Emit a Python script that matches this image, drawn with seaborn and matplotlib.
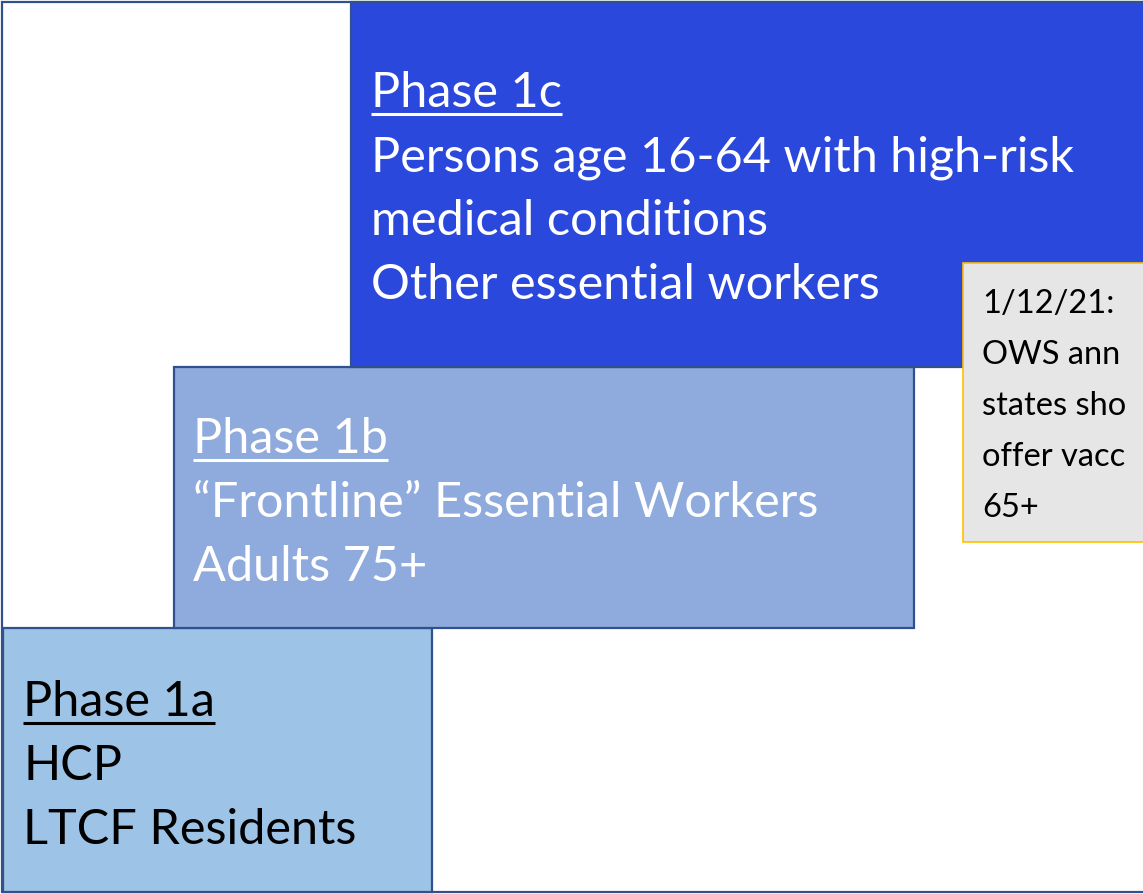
import matplotlib
matplotlib.use("Agg")
import matplotlib.pyplot as plt
import seaborn as sns

# phases of the rollout, drawn as stacked steps
phases = ["Phase 1a", "Phase 1b", "Phase 1c"]
groups = [
    ["HCP", "LTCF Residents"],
    ["\u201cFrontline\u201d Essential Workers", "Adults 75+"],
    ["Persons age 16-64 with high-risk", "medical conditions", "Other essential workers"],
]
# step extents (left, right, top, bottom) on the slide grid
step_left = [3, 174, 351]
step_right = [432, 914, 1170]
step_top = [628, 367, 2]
step_bottom = [892, 628, 367]

# callout as it shows on the slide (runs off the right edge)
note_lines = ["1/12/21:", "OWS ann", "states sho", "offer vacc", "65+"]
note_box = (963, 1170, 263, 542)

fills = ["#9dc3e6", "#8faadc", "#2b48dc"]
text_colors = ["black", "white", "white"]
edge = "#2f528f"

sns.set_theme(style="white")
plt.rcParams["font.family"] = ["Lato", "DejaVu Sans"]

fig = plt.figure(figsize=(11.43, 8.94), dpi=100)
ax = fig.add_axes([0, 0, 1, 1])
ax.set_xlim(0, 1143)
ax.set_ylim(894, 0)
ax.axis("off")

# outer frame
ax.bar(2, 890, width=1170, bottom=2, align="edge", color="white",
       edgecolor=edge, linewidth=1.6, zorder=1)

for i in range(3):
    ax.bar(step_left[i], step_bottom[i] - step_top[i], width=step_right[i] - step_left[i],
           bottom=step_top[i], align="edge", color=fills[i], edgecolor=edge,
           linewidth=1.6, zorder=2 + i)

x0, x1, y0, y1 = note_box
ax.bar(x0, y1 - y0, width=x1 - x0, bottom=y0, align="edge", color="#e7e6e6",
       edgecolor="#ffc000", linewidth=1.2, zorder=6)

# text blocks: (left, baseline of title)
text_pos = [(23, 716), (193, 453), (371, 107)]
line_gap = 64
titles = []
for i in range(3):
    tx, ty = text_pos[i]
    t = ax.text(tx, ty, phases[i], color=text_colors[i], fontsize=35,
                va="baseline", ha="left", zorder=10)
    titles.append((t, ty, text_colors[i]))
    for j, g in enumerate(groups[i]):
        ax.text(tx, ty + line_gap * (j + 1), g, color=text_colors[i], fontsize=35,
                va="baseline", ha="left", zorder=10)

for j, s in enumerate(note_lines):
    ax.text(982, 313 + 51 * j, s, color="black", fontsize=23.5, va="baseline",
            ha="left", zorder=10)

# underline the phase titles
fig.canvas.draw()
inv = ax.transData.inverted()
for t, ty, c in titles:
    bb = t.get_window_extent()
    (a, _), (b, _) = inv.transform([(bb.x0, bb.y0), (bb.x1, bb.y0)])
    ax.plot([a, b], [ty + 7, ty + 7], color=c, linewidth=2.2, zorder=10,
            solid_capstyle="butt")

fig.savefig("out.png", dpi=100)
